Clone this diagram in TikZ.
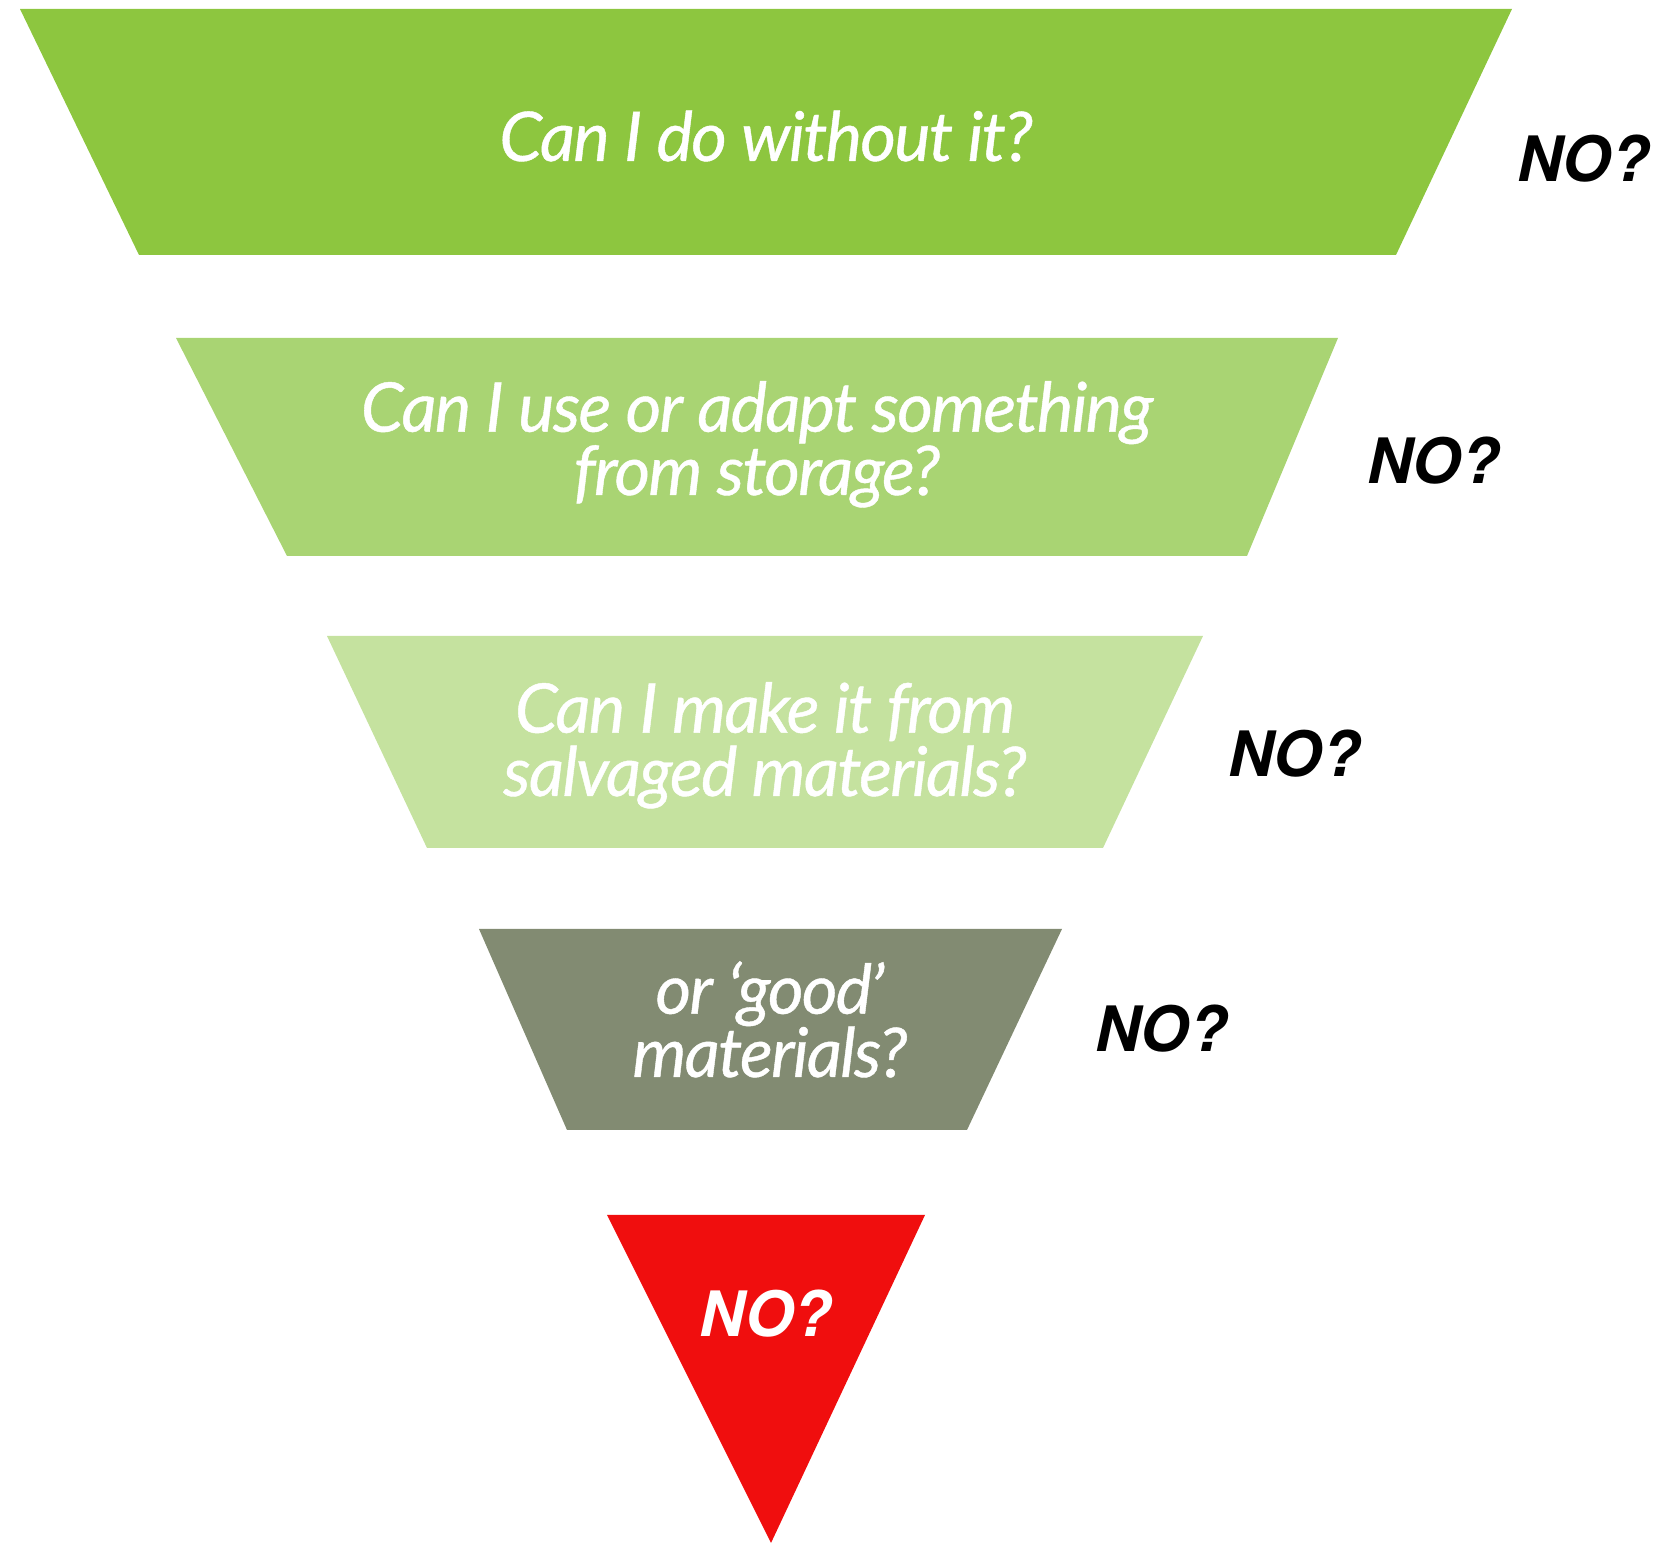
\documentclass[tikz,border=0pt]{standalone}
\usepackage{fontspec}
\setmainfont{Lato}
\newfontfamily\qfont[LetterSpace=-2.5,FakeBold=0.6]{Lato}
\newfontfamily\nofont{TeX Gyre Heros}
\usepackage{xcolor}
\usepackage{tikz}

\definecolor{greenA}{HTML}{8DC63F}
\definecolor{greenB}{HTML}{A9D473}
\definecolor{greenC}{HTML}{C5E29F}
\definecolor{oliveD}{HTML}{828B72}
\definecolor{redE}{HTML}{F00E0E}

\begin{document}
\begin{tikzpicture}[
    x=0.01cm, y=-0.01cm,
    layer/.style={draw=none},
    qtext/.style={anchor=base, align=center, text=white, inner sep=0pt,
      font=\qfont\fontsize{19.5}{18}\selectfont\itshape},
    notext/.style={anchor=base west, inner sep=0pt,
      font=\nofont\fontsize{17.8}{20}\selectfont\bfseries\itshape}
  ]
    \useasboundingbox (0,0) rectangle (1659,1543);

    % funnel layers
    \fill[layer, greenA] (20,9) -- (1512,9) -- (1396,255) -- (139,255) -- cycle;
    \fill[layer, greenB] (176,338) -- (1338,338) -- (1247,556) -- (287,556) -- cycle;
    \fill[layer, greenC] (327,636) -- (1203,636) -- (1103,848) -- (427,848) -- cycle;
    \fill[layer, oliveD] (479,929) -- (1062,929) -- (967,1130) -- (567,1130) -- cycle;
    \fill[layer, redE] (607,1215) -- (925,1215) -- (771,1543) -- cycle;

    % questions (base = last line)
    \node[qtext] (q1) at (766,161) {Can I do without it?};
    \node[qtext] (q2) at (757,495) {Can I use or adapt something\\from storage?};
    \node[qtext] (q3) at (765,796) {Can I make it from\\salvaged materials?};
    \node[qtext] (q4) at (770,1077) {or ‘good’\\materials?};
    \node[notext, anchor=base, text=white] (q5) at (766,1337) {NO?};

    % answers
    \node[notext] (n1) at (1517,182) {NO?};
    \node[notext] (n2) at (1367,484) {NO?};
    \node[notext] (n3) at (1228,777) {NO?};
    \node[notext] (n4) at (1095,1052) {NO?};
\end{tikzpicture}
\end{document}
